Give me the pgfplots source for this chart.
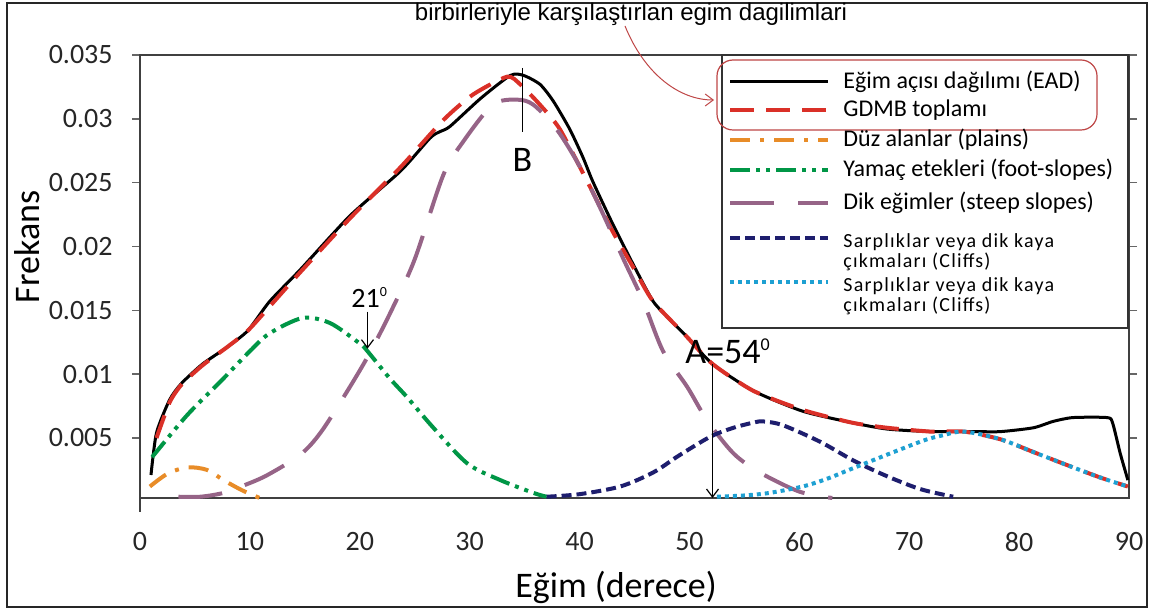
\documentclass[border=0pt]{standalone}
\usepackage{fontspec}
\setmainfont{Carlito}
\newfontfamily\arialfont{Liberation Sans}
\usepackage{pgfplots}
\pgfplotsset{compat=1.18}
\usetikzlibrary{arrows.meta}

\definecolor{gdmbc}{RGB}{218,48,40}
\definecolor{plainc}{RGB}{232,140,40}
\definecolor{footc}{RGB}{0,150,70}
\definecolor{steepc}{RGB}{150,100,135}
\definecolor{cliffa}{RGB}{30,30,110}
\definecolor{cliffb}{RGB}{30,160,210}
\definecolor{annc}{RGB}{190,70,70}

\tikzset{
  ead/.style={black, line width=1.5pt},
  gdmb/.style={gdmbc, line width=2pt, dash pattern=on 12pt off 6pt},
  plain/.style={plainc, line width=2pt, dash pattern=on 10pt off 5pt on 2pt off 5pt},
  foot/.style={footc, line width=2pt, dash pattern=on 10pt off 3pt on 2pt off 3pt on 2pt off 3pt},
  steep/.style={steepc, line width=2pt, dash pattern=on 22pt off 12pt},
  clifa/.style={cliffa, line width=2pt, dash pattern=on 5pt off 2.5pt},
  clifb/.style={cliffb, line width=2pt, dash pattern=on 2pt off 2pt},
}

\begin{document}
\begin{tikzpicture}
\useasboundingbox (0,0) rectangle (578.5pt,305.5pt);

\begin{axis}[
  at={(70pt,56.5pt)}, anchor=south west,
  scale only axis, width=494.5pt, height=221.5pt,
  xmin=0, xmax=90, ymin=0.0003, ymax=0.035,
  scaled y ticks=false,
  xtick={0,10,...,90},
  ytick={0.005,0.01,0.015,0.02,0.025,0.03,0.035},
  yticklabels={0.005,0.01,0.015,0.02,0.025,0.03,0.035},
  xticklabels={0,10,20,30,40,50,60,70,80,90},
  tick label style={font=\fontsize{14}{16}\selectfont, text=black!85},
  xticklabel style={anchor=center, yshift=-18pt, inner sep=0pt},
  yticklabel style={anchor=east, xshift=-9.5pt, inner sep=0pt},
  xtick style={draw=none},
  ytick style={black!60, line width=0.8pt},
  tick align=outside, major tick length=4pt,
  axis line style={black!75, line width=1pt},
  clip=false,
]
\addplot[ead, smooth, tension=0.4] coordinates {
 (1,0.0021) (1.5,0.0054) (2.7,0.0080) (3.8,0.0093) (5.7,0.0108) (7.9,0.0121)
 (9.8,0.0134) (11.8,0.0157) (14.6,0.0182) (19.1,0.0224) (23.7,0.0259)
 (26.4,0.0285) (27.3,0.0290) (28.2,0.0294) (31,0.0316) (33.7,0.0334)
 (34.9,0.0334) (36.4,0.0327) (37.6,0.0314) (39.1,0.0292) (40.3,0.0270)
 (41.2,0.0251) (43,0.0218) (45,0.0184) (46.7,0.0157) (48.2,0.0143)
 (49.8,0.0129) (52.1,0.0108) (55.8,0.0087) (60.3,0.0071) (64.8,0.0062)
 (68,0.0057) (72,0.0055) (76,0.0055) (78.3,0.0055) (81.3,0.0058)
 (83.1,0.0063) (84.9,0.0066) (88,0.0066) (88.5,0.0062) (89.2,0.0038)
 (89.9,0.0017)
};
\addplot[gdmb, smooth, tension=0.4] coordinates {
 (1.5,0.0050) (2.7,0.0078) (3.8,0.0092) (5.7,0.0107) (7.9,0.0121) (9.8,0.0134)
 (11.8,0.0153) (14.6,0.0180) (19.1,0.0222) (23.7,0.0262) (27.6,0.0299)
 (30.3,0.0319) (33.4,0.0333) (34.6,0.0327) (36.4,0.0311) (38.2,0.0292)
 (40.7,0.0251) (43,0.0212) (45,0.0182) (46.7,0.0157) (49.8,0.0129)
 (52.1,0.0108) (55.8,0.0087) (60.3,0.0072) (64.8,0.0062) (68,0.0058)
 (72,0.0055) (75,0.0055) (78.3,0.0049) (81.3,0.0039) (84.3,0.0029)
 (87.4,0.0019) (89.9,0.0012)
};
\addplot[plain, smooth] coordinates {
 (0.9,0.0012) (2.5,0.0022) (4.3,0.0027) (6.1,0.0025) (7.6,0.0017)
 (9.3,0.0009) (10.9,0.0003)
};
\addplot[foot, smooth] coordinates {
 (1.1,0.0035) (4.3,0.0068) (7.3,0.0094) (10,0.0118) (11.8,0.0132)
 (14.8,0.0144) (17.3,0.0140) (20,0.0124) (20.7,0.0118) (22.7,0.0097)
 (24.3,0.0082) (26.7,0.0058) (29.8,0.0030) (32.8,0.0017) (35.8,0.0007)
 (37,0.0004)
};
\addplot[steep, smooth] coordinates {
 (3.5,0.0004) (5.5,0.0004) (7.6,0.0007) (9.5,0.0013) (11.6,0.0021)
 (14.6,0.0037) (16.5,0.0055) (19.1,0.0090) (21,0.0118) (23,0.0152)
 (25,0.0190) (27.6,0.0256) (29.4,0.0282) (32.1,0.0311) (34.3,0.0315)
 (35.8,0.0311) (37.9,0.0292) (40,0.0263) (42,0.0228) (44,0.0190)
 (45.8,0.0157) (47.6,0.0118) (49.8,0.0090) (51.6,0.0064) (54,0.0038)
 (56.4,0.0023) (60,0.0008) (63,0.0003)
};
\addplot[clifa, smooth] coordinates {
 (37,0.0004) (40,0.0006) (43.7,0.0012) (46.7,0.0023) (49,0.0036)
 (51.9,0.0051) (54,0.0058) (55.8,0.0062) (56.7,0.0063) (58.5,0.0060)
 (61.9,0.0047) (65,0.0032) (68,0.0020) (71,0.0010) (74,0.0004)
};
\addplot[clifb, smooth] coordinates {
 (52.5,0.0004) (55,0.0005) (57.3,0.0007) (60.3,0.0012) (62.5,0.0018)
 (64.8,0.0026) (68,0.0037) (71.3,0.0048) (73,0.0052) (75,0.0055)
 (78.3,0.0049) (81.3,0.0039) (84.3,0.0029) (87.4,0.0019) (89.9,0.0012)
};
% annotations
\draw[black, line width=0.8pt] (axis cs:34.8,0.0340) -- (axis cs:34.8,0.0290);
\node[font=\fontsize{18}{20}\selectfont] at (axis cs:34.8,0.0268) {B};
\draw[black, line width=0.6pt, -{Straight Barb[length=4pt,width=6pt]}]
  (axis cs:52.1,0.0108) -- (axis cs:52.1,0.0003);
\node[anchor=west, inner sep=0pt, font=\fontsize{18}{20}\selectfont]
  at (axis cs:49.6,0.0118) {A=54\textsuperscript{\fontsize{9}{10}\selectfont 0}};
\draw[black, line width=0.6pt, -{Straight Barb[length=4pt,width=6pt]}]
  (axis cs:20.7,0.0149) -- (axis cs:20.7,0.0120);
\node[font=\fontsize{14}{16}\selectfont, inner sep=0pt]
  at (axis cs:20.9,0.0160) {21\textsuperscript{\fontsize{7}{8}\selectfont 0}};
\end{axis}

\begin{scope}[x=0.5pt, y=-0.5pt, yshift=305.5pt]
  % outer frame
  \draw[black!85, line width=1pt] (7,3) rectangle (1147,607);
  \draw[black!75, line width=1pt] (140,498) -- (140,512);
  % axis labels
  \node[font=\fontsize{18}{20}\selectfont] at (616,587) {Eğim (derece)};
  \node[font=\fontsize{18}{20}\selectfont, rotate=90] at (27,247) {Frekans};
  % top caption and arrow
  \node[font=\arialfont\fontsize{12}{14}\selectfont, anchor=base] at (631,21)
    {birbirleriyle karşılaştırlan egim dagilimlari};
  \draw[annc, line width=0.5pt, -{Straight Barb[length=4pt,width=6pt]}]
    (625,26) .. controls (645,75) and (680,100) .. (714,100);
  % legend
  \draw[black!80, line width=0.8pt, fill=white] (722,55) rectangle (1128,328);
  \draw[annc, line width=0.6pt, rounded corners=8pt] (717,60) rectangle (1097,130);
  \begin{scope}[every node/.style={anchor=west, inner sep=0pt, font=\fontsize{12}{14}\selectfont}]
    \draw[ead] (730,82) -- (828,82);   \node at (843,82) {Eğim açısı dağılımı (EAD)};
    \draw[gdmb] (730,110) -- (828,110); \node at (843,110) {GDMB toplamı};
    \draw[plain] (730,140) -- (828,140); \node at (843,140) {Düz alanlar (plains)};
    \draw[foot] (730,170) -- (828,170); \node at (843,170) {Yamaç etekleri (foot-slopes)};
    \draw[steep] (730,203) -- (828,203); \node at (843,203) {Dik eğimler (steep slopes)};
  \end{scope}
  \begin{scope}[every node/.style={anchor=west, inner sep=0pt, font=\fontsize{10}{12}\selectfont\addfontfeature{LetterSpace=6}}]
    \draw[clifa] (730,238) -- (828,238); \node at (843,242) {Sarplıklar veya dik kaya};
    \node at (843,262) {çıkmaları (Cliffs)};
    \draw[clifb] (730,282) -- (828,282); \node at (843,286) {Sarplıklar veya dik kaya};
    \node at (843,306) {çıkmaları (Cliffs)};
  \end{scope}
\end{scope}
\end{tikzpicture}
\end{document}
